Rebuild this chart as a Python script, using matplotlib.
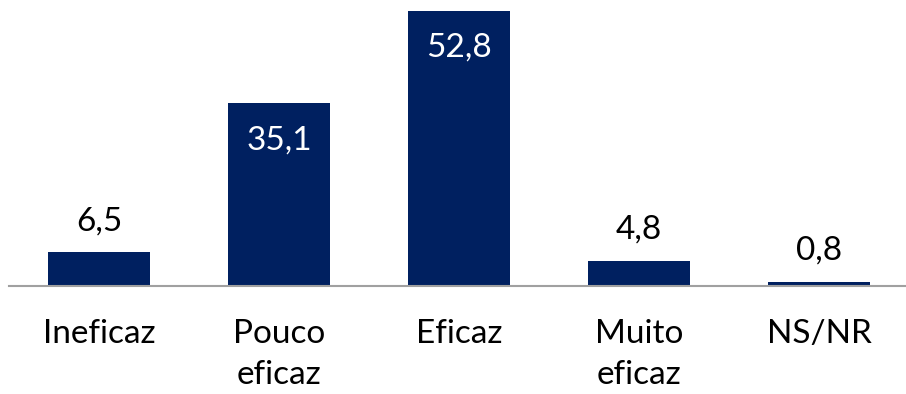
import numpy as np
import matplotlib
matplotlib.use("Agg")
import matplotlib.pyplot as plt

# Data
categories = ["Ineficaz", "Pouco\neficaz", "Eficaz", "Muito\neficaz", "NS/NR"]
values = [6.5, 35.1, 52.8, 4.8, 0.8]
labels = ["6,5", "35,1", "52,8", "4,8", "0,8"]
inside = [False, True, True, False, False]

plt.rcParams['font.family'] = ['Lato', 'DejaVu Sans']

fig = plt.figure(figsize=(9.06, 3.94), dpi=100)
ax = fig.add_axes([9/906, 108/394, 900/906, 286/394])

x = np.arange(len(categories))
ax.bar(x, values, width=0.572, color="#002060", zorder=2)

for xi, v, lab, ins in zip(x, values, labels, inside):
    if ins:
        ax.annotate(lab, (xi, v), xytext=(0, -37), textcoords="offset pixels",
                    ha="center", va="center", fontsize=24, color="white")
    else:
        ax.annotate(lab, (xi, v), xytext=(0, 31), textcoords="offset pixels",
                    ha="center", va="center", fontsize=24, color="black")

ax.set_xlim(-0.5, 4.5)
ax.set_ylim(0, 54.9)
ax.set_xticks(x)
ax.set_xticklabels(categories, fontsize=24, linespacing=1.45, va="top")
ax.tick_params(axis="x", length=0, pad=24)
ax.set_yticks([])
for s in ["top", "right", "left"]:
    ax.spines[s].set_visible(False)
ax.spines["bottom"].set_color("#a0a0a0")
ax.spines["bottom"].set_linewidth(1.5)

fig.savefig("out.png", dpi=100)
